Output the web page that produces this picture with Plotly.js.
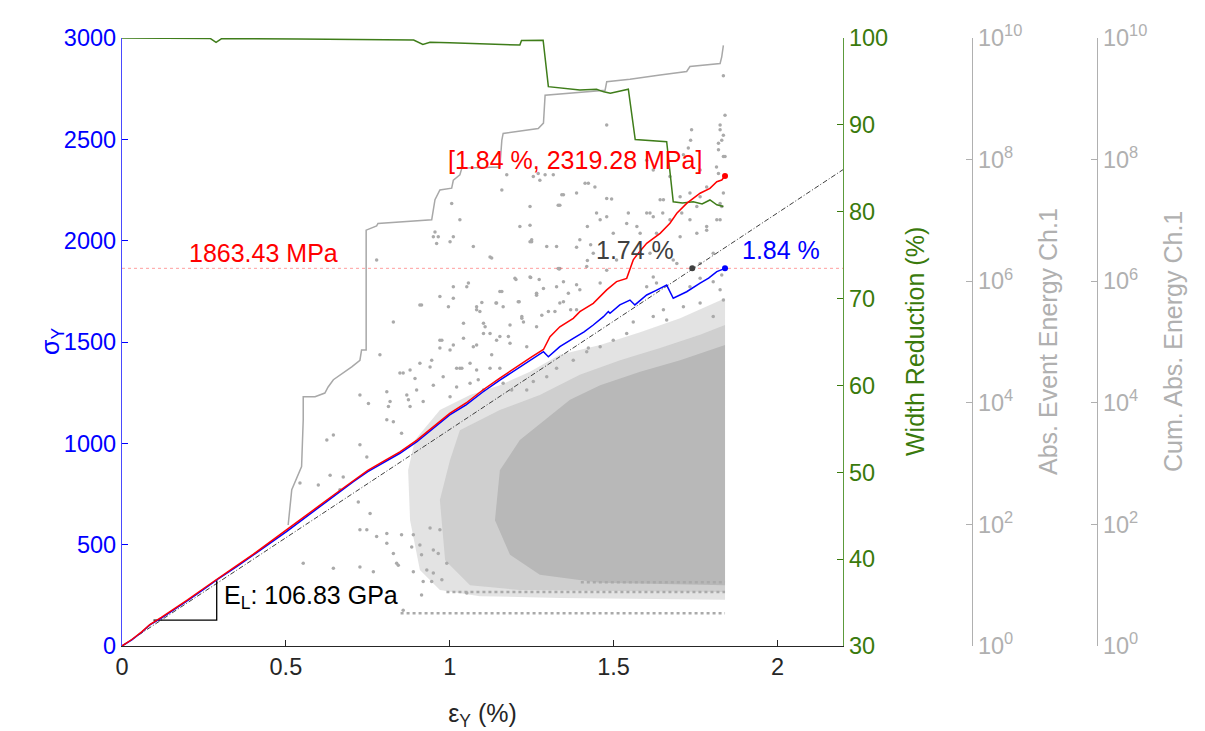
<!DOCTYPE html>
<html><head><meta charset="utf-8">
<script src="https://cdn.plot.ly/plotly-3.0.1.min.js"></script>
<style>html,body{margin:0;padding:0;background:#fff;}#chart{width:1205px;height:731px;}</style>
</head><body><div id="chart"></div>
<script>
// ---------------- DATA ----------------
// Engineering stress-strain (blue)
const engStrain = [0,0.03,0.06,0.085,0.12,0.16,0.2,0.25,0.289,0.35,0.4,0.45,0.503,0.55,0.6,0.65,0.706,0.75,0.8,0.848,0.9,0.95,1.0,1.05,1.1,1.153,1.214,1.25,1.286,1.301,1.336,1.377,1.41,1.438,1.469,1.484,1.489,1.519,1.55,1.565,1.601,1.63,1.662,1.682,1.723,1.764,1.79,1.815,1.83,1.84];
const engStress = [0,30,68,104,138,180,224,280,326,392,447,505,566,623,683,743,811,860,905,951,1008,1075,1140,1190,1252,1312,1378,1415,1452,1427,1477,1518,1550,1584,1625,1650,1642,1683,1707,1683,1732,1755,1781,1716,1748,1790,1815,1847,1858,1863.43];
// True stress-strain (red)
const trueStrain = [0,0.03,0.06,0.085,0.12,0.16,0.2,0.25,0.289,0.35,0.4,0.45,0.503,0.55,0.6,0.65,0.706,0.75,0.8,0.848,0.9,0.95,1.0,1.05,1.1,1.153,1.214,1.25,1.286,1.306,1.336,1.377,1.397,1.438,1.479,1.509,1.54,1.56,1.571,1.601,1.642,1.672,1.693,1.723,1.764,1.794,1.815,1.83,1.84];
const trueStress = [0,32,70,106,141,183,228,285,330,397,452,511,572,630,690,750,818,867,913,958,1016,1083,1148,1199,1262,1322,1389,1427,1463,1526,1575,1617,1650,1691,1757,1798,1814,1905,1929,1987,2036,2086,2135,2184,2234,2258,2291,2299,2319.28];
// Linear fit (E_L = 106.83 GPa)
const fitStrain = [0, 2.2];
const fitStress = [0, 2350.3];
const yieldStress = 1863.43;
const yieldStrainFit = 1.74;
const maxStrain = 1.84, maxTrueStress = 2319.28;
// slope triangle
const triStrain = [0.096, 0.289, 0.289];
const triStress = [128, 128, 326];
// Width reduction (%)
const wrStrain = [0,0.13,0.27,0.287,0.304,0.54,0.747,0.89,0.918,0.94,1.0,1.1,1.214,1.219,1.285,1.301,1.35,1.397,1.448,1.47,1.49,1.52,1.545,1.566,1.6,1.652,1.662,1.682,1.71,1.743,1.77,1.794,1.815,1.835];
const wrValue  = [100,99.96,99.93,99.5,99.93,99.88,99.85,99.77,99.25,99.5,99.45,99.31,99.19,99.7,99.75,94.4,94.2,94.0,94.1,93.8,93.63,93.9,94.1,88.3,88.2,88.1,88.06,81.15,81.0,81.15,80.9,81.35,80.8,80.6];
// Cumulative absolute energy Ch.1 (log10)
const cumStrain = [0.507,0.518,0.548,0.553,0.553,0.589,0.619,0.629,0.645,0.675,0.701,0.726,0.731,0.745,0.745,0.777,0.781,0.945,0.950,0.955,0.970,1.006,1.011,1.031,1.037,1.153,1.159,1.163,1.270,1.286,1.291,1.38,1.474,1.479,1.55,1.642,1.723,1.733,1.825,1.830,1.835];
const cumLogE   = [1.99,2.57,2.95,3.72,4.10,4.10,4.16,4.26,4.38,4.49,4.59,4.70,4.87,4.87,6.84,6.91,6.95,7.01,7.17,7.34,7.50,7.53,7.66,7.75,7.86,7.88,8.32,8.43,8.51,8.60,9.06,9.10,9.14,9.28,9.32,9.39,9.45,9.53,9.58,9.69,9.88];
// Absolute event energy Ch.1 (log10) - individual events
const aeStrain = [0.543,0.599,0.635,0.675,0.625,0.645,0.726,0.747,0.665,0.721,0.757,0.726,0.747,0.787,0.848,0.808,0.828,0.853,0.808,0.818,0.874,0.909,0.945,0.970,1.011,1.031,1.082,1.153,1.062,
0.553,0.645,0.726,0.777,0.808,0.767,0.838,0.884,0.930,0.950,1.052,0.808,0.853,0.889,0.828,0.909,0.914,0.843,0.889,0.919,0.945,0.976,0.914,0.858,0.950,0.991,0.965,0.940,0.970,
1.174,1.159,1.291,1.347,1.331,1.006,1.031,0.955,0.950,0.965,1.011,1.001,0.960,1.072,1.326,1.123,1.245,0.777,1.331,1.199,1.245,1.057,1.052,1.011,0.970,0.914,0.828,0.996,1.082,1.092,1.143,1.163,1.209,1.220,1.265,1.286,1.321,1.326,1.042,1.103,0.976,0.970,1.001,1.042,1.072,1.123,1.184,1.235,0.940,0.879,0.858,0.894,0.950,1.021,1.037,1.082,1.123,1.153,0.726,0.752,0.869,0.813,0.919,1.001,1.021,1.062,1.087,1.103,1.163,1.189,
1.835,1.840,1.825,1.738,1.830,1.820,1.840,1.479,1.764,1.728,1.713,1.270,1.316,1.413,1.423,1.443,1.479,1.494,1.342,1.448,1.601,1.642,1.650,1.703,1.733,1.764,1.784,1.672,1.621,1.601,1.814,1.735,1.835,
1.245,1.250,1.387,1.420,1.430,1.128,1.420,1.334,1.202,1.247,1.273,1.347,1.387,1.159,1.265,1.362,1.397,1.098,1.141,1.212,1.347,1.301,1.281,1.369,1.387,1.220,1.225,1.108,1.179,1.265,1.128,1.423,
1.336,1.418,1.459,1.479,1.601,1.621,1.631,1.693,1.764,1.804,1.830,1.825,1.835,1.733,1.713,1.652,1.621,1.560,1.540,1.499,1.459,1.418,1.377,1.326,1.296,1.255,1.235,1.764,1.804,1.662,
1.336,1.479,1.545,1.571,1.631,1.703,1.754,1.784,1.825,1.830,1.835,1.835,1.820,1.825,1.733,1.621,1.250,1.296,1.397,1.438,1.509,1.611,1.682,1.764,1.804,
1.255,1.275,1.245,1.214,1.387,1.459,1.499,1.540,1.581,1.611,1.652,1.672,1.708,1.754,1.784,1.815,1.825,1.820,1.153,1.265,1.011,1.082,0.909,0.879,0.899,0.980,1.103,1.143,1.184,1.336];
const aeLogE = [2.68,2.65,2.81,2.78,3.39,3.47,3.31,3.11,2.57,2.37,2.18,1.91,1.91,4.79,4.49,3.72,3.69,3.50,4.18,4.02,4.05,4.65,4.70,5.03,4.95,4.57,4.95,5.09,4.65,
1.36,1.28,1.30,1.80,1.69,1.22,1.36,1.63,1.25,1.58,0.87,1.85,1.83,1.83,1.52,1.66,1.50,1.33,1.22,1.06,1.06,1.09,0.84,0.59,1.20,1.36,1.52,1.94,1.91,
7.75,7.50,7.75,7.42,7.25,7.28,7.01,6.81,6.73,6.73,6.73,6.65,6.62,6.57,6.57,6.40,6.65,6.35,6.21,6.05,6.07,5.97,5.91,5.91,5.75,5.61,5.33,5.58,5.58,5.50,5.64,5.58,5.66,5.42,5.77,5.88,5.50,5.91,5.31,5.31,5.03,4.90,4.87,5.06,4.92,5.14,4.98,4.92,4.59,4.54,4.49,4.40,4.29,4.57,4.57,4.54,4.57,4.57,4.13,3.99,4.13,3.94,4.02,4.10,4.26,4.32,4.38,4.21,4.32,4.21,
9.38,8.73,8.57,8.49,8.32,8.27,8.05,8.57,7.83,8.19,8.08,7.77,7.75,7.61,7.61,7.55,7.36,7.35,7.42,7.12,7.12,7.34,7.12,7.39,7.45,7.39,7.55,7.72,7.83,7.99,7.88,8.32,8.40,
6.92,6.65,6.56,6.90,6.60,6.38,6.34,6.20,6.03,6.06,6.03,5.99,5.94,5.83,5.79,5.80,5.86,5.65,5.64,5.66,5.66,5.50,5.44,5.53,5.53,5.39,5.33,5.25,5.09,5.25,4.79,4.90,
6.21,6.24,5.97,6.18,5.91,6.07,5.97,6.29,6.05,5.99,6.10,5.86,5.69,5.91,5.58,5.53,5.42,5.33,5.14,5.03,4.92,4.84,4.70,4.57,4.43,4.35,4.21,5.64,5.42,5.36,
7.25,7.06,7.12,6.90,6.79,6.73,6.79,6.90,7.01,7.23,7.45,8.05,8.16,8.49,7.01,7.06,6.68,6.57,6.68,6.46,6.35,6.46,6.35,6.29,6.46,
7.72,7.66,7.23,6.90,7.45,7.01,6.79,6.95,6.79,7.12,7.34,7.01,7.12,7.23,6.84,7.01,7.28,7.77,5.83,5.80,5.72,5.53,5.61,3.94,4.21,4.43,5.14,5.03,5.28,5.64];
// Dense event cloud outlines (strain, log10 energy)
const cloudOuterStrain = [0.894,0.970,1.062,1.153,1.245,1.336,1.459,1.581,1.703,1.794,1.840,1.840,1.336,1.092,0.970,0.909,0.879,0.873];
const cloudOuterLogE   = [3.39,3.88,4.13,4.29,4.51,4.79,4.95,5.16,5.39,5.61,5.72,0.76,0.79,0.82,0.92,1.25,2.07,2.89];
const cloudMidStrain = [1.031,1.153,1.275,1.397,1.520,1.642,1.764,1.840,1.840,1.214,1.062,0.986,0.970,1.001];
const cloudMidLogE   = [3.55,3.88,4.13,4.46,4.70,4.90,5.12,5.28,0.89,0.92,1.00,1.41,2.40,3.06];
const cloudCoreStrain = [1.153,1.214,1.291,1.367,1.459,1.581,1.703,1.840,1.840,1.459,1.275,1.184,1.138];
const cloudCoreLogE   = [2.89,3.39,3.72,4.05,4.29,4.51,4.70,4.95,1.00,1.04,1.17,1.50,2.07];
// Rows of low-energy events
const bandLogE  = [0.54, 0.89, 1.05];
const bandStart = [0.85, 0.99, 1.40];
const bandEnd   = [1.84, 1.84, 1.84];
// Tick labels
const xTicks = [0, 0.5, 1, 1.5, 2];
const stressTicks = [0, 500, 1000, 1500, 2000, 2500, 3000];
const wrTicks = [30, 40, 50, 60, 70, 80, 90, 100];
const logTickExp = [0, 2, 4, 6, 8, 10];

// ---------------- STYLE ----------------
const FONT = 'Liberation Sans, Arial, sans-serif';
const BLUE = '#0000ff', GREEN = '#3a7a0c', LGRAY = '#b0b0b0', PGRAY = '#aaaaaa';
const W = 1205, H = 731, ML = 122, MR = 10, MT = 38, MB = 85;
const PW = W - ML - MR;
const px = p => (p - ML) / PW;           // pixel column -> paper fraction
const xEnd = px(843);
const posEvent = px(972);
const posCum = px(1097);
const pow10 = a => a.map(v => Math.pow(10, v));
const TICK = 23.5, TITLE = 25;

const traces = [];
[[cloudOuterStrain, cloudOuterLogE, 'rgba(182,182,182,0.38)'],
 [cloudMidStrain, cloudMidLogE, 'rgba(182,182,182,0.45)'],
 [cloudCoreStrain, cloudCoreLogE, 'rgba(184,184,184,1)']].forEach(([xs, ls, c]) => {
  traces.push({x: xs, y: pow10(ls), xaxis: 'x', yaxis: 'y', type: 'scatter', mode: 'lines',
    fill: 'toself', fillcolor: c, line: {width: 0}, hoverinfo: 'skip', showlegend: false});
});
bandLogE.forEach((l, i) => {
  traces.push({x: [bandStart[i], bandEnd[i]], y: pow10([l, l]), xaxis: 'x', yaxis: 'y', type: 'scatter', mode: 'lines',
    line: {color: PGRAY, width: 2.5, dash: 'dot'}, showlegend: false});
});
traces.push({x: aeStrain, y: pow10(aeLogE), xaxis: 'x', yaxis: 'y', type: 'scatter', mode: 'markers',
  marker: {color: PGRAY, size: 3.5}, showlegend: false});
traces.push({x: cumStrain, y: pow10(cumLogE), xaxis: 'x', yaxis: 'y2', type: 'scatter', mode: 'lines',
  line: {color: '#a8a8a8', width: 1.5}, showlegend: false});
traces.push({x: wrStrain, y: wrValue, xaxis: 'x', yaxis: 'y3', type: 'scatter', mode: 'lines',
  line: {color: '#3f7d1a', width: 1.5}, showlegend: false});
traces.push({x: [0, 2.2], y: [yieldStress, yieldStress], xaxis: 'x', yaxis: 'y4', type: 'scatter', mode: 'lines',
  line: {color: 'rgba(255,80,80,0.55)', width: 1, dash: 'dot'}, showlegend: false});
traces.push({x: fitStrain, y: fitStress, xaxis: 'x', yaxis: 'y4', type: 'scatter', mode: 'lines',
  line: {color: '#404040', width: 1, dash: '5px,2px,1px,2px'}, showlegend: false});
traces.push({x: triStrain, y: triStress, xaxis: 'x', yaxis: 'y4', type: 'scatter', mode: 'lines',
  line: {color: '#000000', width: 1.3}, showlegend: false});
traces.push({x: engStrain, y: engStress, xaxis: 'x', yaxis: 'y4', type: 'scatter', mode: 'lines',
  line: {color: BLUE, width: 1.5}, showlegend: false});
traces.push({x: trueStrain, y: trueStress, xaxis: 'x', yaxis: 'y4', type: 'scatter', mode: 'lines',
  line: {color: '#ff0000', width: 1.5}, showlegend: false});
traces.push({x: [maxStrain], y: [yieldStress], xaxis: 'x', yaxis: 'y4', type: 'scatter', mode: 'markers',
  marker: {color: BLUE, size: 6}, showlegend: false});
traces.push({x: [maxStrain], y: [maxTrueStress], xaxis: 'x', yaxis: 'y4', type: 'scatter', mode: 'markers',
  marker: {color: '#ff0000', size: 6}, showlegend: false});
traces.push({x: [yieldStrainFit], y: [yieldStress], xaxis: 'x', yaxis: 'y4', type: 'scatter', mode: 'markers',
  marker: {color: '#404040', size: 6}, showlegend: false});

const logAxis = (pos, extra) => Object.assign({
  type: 'log', range: [0, 10], anchor: 'free', position: pos, side: 'right',
  showline: true, linecolor: LGRAY, linewidth: 1.2, ticks: 'inside', ticklen: 6, tickcolor: LGRAY,
  tickvals: pow10(logTickExp), ticktext: logTickExp.map(e => '10<sup>' + e + '</sup>'),
  tickfont: {family: FONT, size: TICK, color: LGRAY}, showgrid: false, zeroline: false
}, extra || {});

const titleAnn = (xp, text, color) => ({xref: 'paper', yref: 'paper', x: xp, y: 0.5, textangle: -90,
  text: text, showarrow: false, font: {family: FONT, size: TITLE, color: color}});

const layout = {
  width: W, height: H, margin: {l: ML, r: MR, t: MT, b: MB},
  paper_bgcolor: '#ffffff', plot_bgcolor: 'rgba(0,0,0,0)', showlegend: false,
  font: {family: FONT},
  xaxis: {domain: [0, xEnd], range: [0, 2.2], anchor: 'y4', tickvals: xTicks, ticktext: xTicks.map(String),
    ticks: 'inside', ticklen: 6, tickcolor: '#262626', showline: true, linecolor: '#262626', linewidth: 1.2,
    showgrid: false, zeroline: false, tickfont: {family: FONT, size: TICK, color: '#262626'},
    title: {text: 'ε<sub>Y</sub> (%)', font: {family: FONT, size: TITLE, color: '#262626'}}},
  yaxis: logAxis(posEvent),
  yaxis2: logAxis(posCum, {overlaying: 'y'}),
  yaxis3: {overlaying: 'y', anchor: 'x', side: 'right', range: [30, 100], tickvals: wrTicks,
    ticks: 'inside', ticklen: 6, tickcolor: GREEN, showline: true, linecolor: '#5c9a3c', linewidth: 1.2,
    showgrid: false, zeroline: false, tickfont: {family: FONT, size: TICK, color: GREEN}},
  yaxis4: {overlaying: 'y', anchor: 'x', side: 'left', range: [0, 3000], tickvals: stressTicks,
    ticks: 'inside', ticklen: 6, tickcolor: BLUE, showline: true, linecolor: '#4a4aff', linewidth: 1.2,
    showgrid: false, zeroline: false, tickfont: {family: FONT, size: TICK, color: BLUE}},
  annotations: [
    titleAnn(px(34), 'σ<sub>Y</sub>', BLUE),
    titleAnn(px(931), 'Width Reduction (%)', GREEN),
    titleAnn(px(1064), 'Abs. Event Energy Ch.1', LGRAY),
    titleAnn(px(1189), 'Cum. Abs. Energy Ch.1', LGRAY),
    {xref: 'x', yref: 'y4', x: 0.433, y: 1939, text: '1863.43 MPa', showarrow: false, font: {family: FONT, size: TITLE, color: '#ff0000'}},
    {xref: 'x', yref: 'y4', x: 1.382, y: 2398, text: '[1.84 %, 2319.28 MPa]', showarrow: false, font: {family: FONT, size: TITLE, color: '#ff0000'}},
    {xref: 'x', yref: 'y4', x: 1.565, y: 1954, text: '1.74 %', showarrow: false, font: {family: FONT, size: TITLE, color: '#404040'}},
    {xref: 'x', yref: 'y4', x: 2.011, y: 1954, text: '1.84 %', showarrow: false, font: {family: FONT, size: TITLE, color: BLUE}},
    {xref: 'x', yref: 'y4', x: 0.305, y: 242, xanchor: 'left', text: 'E<sub>L</sub>: 106.83 GPa', showarrow: false, font: {family: FONT, size: TITLE, color: '#000000'}}
  ]
};

Plotly.newPlot('chart', traces, layout, {displayModeBar: false, staticPlot: true});
</script>
</body></html>
